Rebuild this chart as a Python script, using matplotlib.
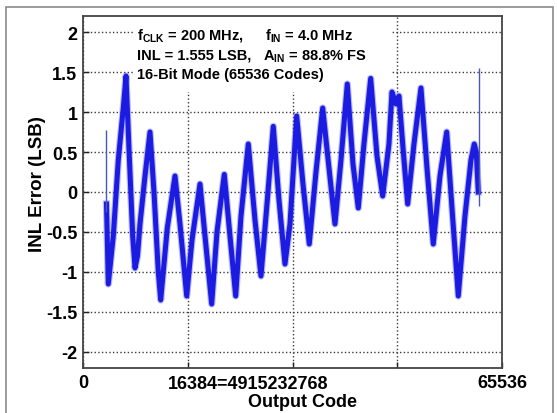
"""INL error vs output code, 16-bit mode."""
import matplotlib
matplotlib.use('Agg')
import matplotlib.pyplot as plt
import matplotlib.patches as mpatches

plt.rcParams['font.family'] = ['Liberation Sans', 'DejaVu Sans']
plt.rcParams['mathtext.fontset'] = 'custom'
plt.rcParams['mathtext.rm'] = 'Liberation Sans:bold'
plt.rcParams['mathtext.bf'] = 'Liberation Sans:bold'

# centre line of the INL band
codes = [3675, 3957, 4739, 5521, 6303, 6725, 7241, 7773, 8133, 8524,
         8915, 9697, 10479, 11104, 11777, 12152, 13185, 14389, 15171, 16219,
         17048, 18299, 19081, 20129, 20958, 22099, 22991, 23882, 24711, 25853,
         26901, 27839, 28778, 29763, 30654, 31593, 32375, 33423, 34408, 35393,
         36441, 37489, 38474, 39413, 40351, 41337, 42228, 43057, 43948, 44996,
         45982, 46873, 47858, 48328, 48953, 49422, 50052, 50783, 51768, 52863,
         53802, 54787, 55835, 56883, 57712, 58697, 59745, 60683, 61199, 61512,
         61825]
inl = [-0.15, -1.15, -0.55, 0.40, 1.05, 1.45, 0.45, -0.55, -0.95, -0.80,
       -0.40, 0.20, 0.75, 0.00, -1.00, -1.35, -0.45, 0.20, -0.40, -1.30,
       -0.60, 0.10, -0.55, -1.40, -0.50, 0.22, -0.55, -1.30, -0.30, 0.60,
       -0.35, -1.05, -0.15, 0.82, -0.10, -0.90, -0.40, 0.95, 0.10, -0.65,
       0.25, 1.05, 0.30, -0.40, 0.40, 1.35, 0.35, -0.20, 0.60, 1.42,
       0.45, -0.05, 0.60, 1.25, 1.10, 1.20, 0.55, -0.15, 0.60, 1.30,
       0.30, -0.65, 0.20, 0.75, -0.20, -1.30, -0.30, 0.40, 0.60, 0.50,
       0.00]

# thin spikes at both ends of the record
spike_codes = [3600, 61900]
spike_top = [0.77, 1.55]
spike_bottom = [-0.25, -0.17]

xticks = [0, 16384, 32768, 49152, 65536]
xticklabels = ['0', '', '', '', '65536']
yticks = [-2, -1.5, -1, -0.5, 0, 0.5, 1, 1.5, 2]
yticklabels = ['-2', '-1.5', '-1', '-0.5', '0', '0.5', '1', '1.5', '2']

fig = plt.figure(figsize=(5.57, 4.14), dpi=100)
ax = fig.add_axes([83/557, 1 - 369/414, 419/557, 352/414])

# outer frame
fig.patches.append(mpatches.Rectangle((6/557, -0.01), 547/557, 1 - 8/414 + 0.01,
                                      transform=fig.transFigure, fill=False,
                                      edgecolor='#8a8a8a', linewidth=1.2))

blue = '#1c1ce0'
# soft halo + core to mimic the noisy band
ax.plot(codes, inl, color='#3a3aff', linewidth=5.2, alpha=0.35, zorder=2)
ax.plot(codes, inl, color=blue, linewidth=3.6, zorder=2)
ax.vlines(spike_codes, spike_bottom, spike_top, color='#4a56b8', linewidth=1.0, zorder=2)

ax.set_xlim(0, 65536)
ax.set_ylim(-2.2, 2.2)
ax.set_xticks(xticks)
ax.set_xticklabels(xticklabels)
ax.set_yticks(yticks)
ax.set_yticklabels(yticklabels)
ax.tick_params(direction='in', length=4, width=1, labelsize=13, pad=4, colors='#222222')
for lab in ax.get_xticklabels() + ax.get_yticklabels():
    lab.set_fontweight('bold')
    lab.set_color('black')

ax.set_axisbelow(True)
ax.grid(True, linestyle=':', color='#3a3a3a', linewidth=1.0)
for s in ax.spines.values():
    s.set_color('#444444')
    s.set_linewidth(1.3)

# white patch that hides the grid behind the annotation
ax.add_patch(mpatches.Rectangle((0.124, 0.784), 0.613, 0.216, transform=ax.transAxes,
                                facecolor='white', edgecolor='none', zorder=1))

ax.text(0.393, -0.02, '16384=4915232768', transform=ax.transAxes, ha='center', va='top',
        fontsize=13, fontweight='bold')

ax.set_xlabel('Output Code', fontsize=13, fontweight='bold')
ax.xaxis.set_label_coords(0.524, -0.07)
ax.set_ylabel('INL Error (LSB)', fontsize=13.5, fontweight='bold')
ax.yaxis.set_label_coords(-0.088, 0.526)

tkw = dict(transform=ax.transAxes, fontsize=10.5, fontweight='bold', va='baseline', zorder=3)
ax.text(0.129, 0.935, r'f$_{\mathbf{CLK}}$ = 200 MHz,', **tkw)
ax.text(0.434, 0.935, r'f$_{\mathbf{IN}}$ = 4.0 MHz', **tkw)
ax.text(0.129, 0.878, 'INL = 1.555 LSB,', **tkw)
ax.text(0.430, 0.878, r'A$_{\mathbf{IN}}$ = 88.8% FS', **tkw)
ax.text(0.129, 0.824, '16-Bit Mode (65536 Codes)', **tkw)

fig.savefig('out.png', dpi=100)
